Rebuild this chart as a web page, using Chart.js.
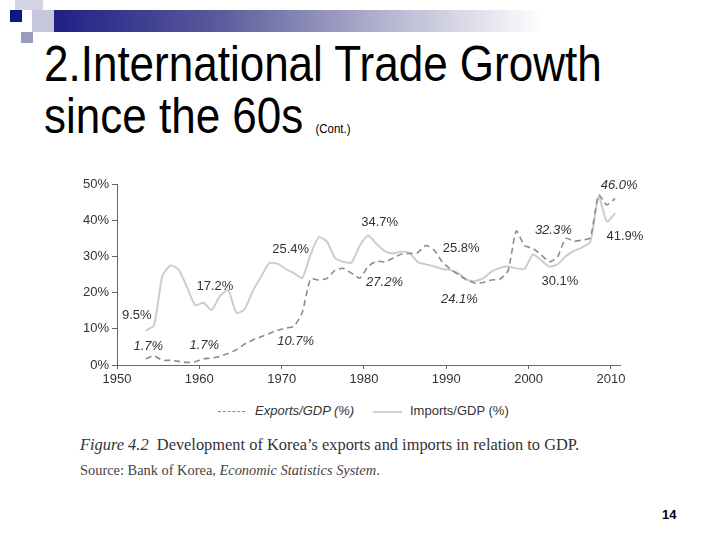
<!DOCTYPE html>
<html>
<head>
<meta charset="utf-8">
<script src="https://cdn.jsdelivr.net/npm/chart.js@4.4.1/dist/chart.umd.min.js"></script>
<style>
  body { margin: 0; background: #fff; }
  #slide { position: relative; width: 720px; height: 540px; overflow: hidden; background: #fff; font-family: "Liberation Sans", Arial, sans-serif; }
  .sq { position: absolute; }
  #bar { position: absolute; left: 43px; top: 10px; width: 500px; height: 22px;
         background: linear-gradient(to right, #1c1c84 0%, #5a5a9c 35%, #b8b8d2 70%, #ffffff 100%); }
  #title { position: absolute; left: 44px; top: 38px; font-size: 50px; line-height: 52px; color: #000;
           transform: scaleX(0.88); transform-origin: left top; white-space: nowrap; }
  #title small { font-size: 13px; }
  #chartBox { position: absolute; left: 0; top: 160px; width: 720px; height: 240px; }
  #legend { position: absolute; top: 403px; left: 0; width: 720px; height: 18px; font-size: 13px; color: #333; }
  #legend span { position: absolute; top: 0; }
  #legend i.ln { position: absolute; top: 8px; height: 0; }
  #cap1 { position: absolute; left: 80px; top: 435px; font-family: "Liberation Serif", serif; font-size: 16.4px; color: #333; white-space: nowrap; }
  #cap2 { position: absolute; left: 80px; top: 462px; font-family: "Liberation Serif", serif; font-size: 14.4px; color: #444; white-space: nowrap; }
  #page { position: absolute; left: 662px; top: 507px; font-size: 13px; font-weight: bold; color: #000; }
</style>
</head>
<body>
<div id="slide">
  <div id="bar"></div>
  <div class="sq" style="left:15px;top:0;width:28px;height:10px;background:#d4d4e6"></div>
  <div class="sq" style="left:32px;top:10px;width:22px;height:22px;background:#c6c6dc"></div>
  <div class="sq" style="left:10px;top:10px;width:12px;height:12px;background:#14148a"></div>
  <div class="sq" style="left:21px;top:32px;width:12px;height:11px;background:#9a9ac0"></div>
  <div id="title">2.International Trade Growth<br>since the 60s <small>(Cont.)</small></div>
  <div id="chartBox"><canvas id="tradeChart"></canvas></div>
  <div id="legend">
    <i class="ln" style="left:218px;width:27px;border-top:1.5px dashed #8c8c8c"></i>
    <span style="left:255px;font-style:italic">Exports/GDP (%)</span>
    <i class="ln" style="left:373px;width:29px;border-top:2px solid #cfcfcf"></i>
    <span style="left:410px">Imports/GDP (%)</span>
  </div>
  <div id="cap1"><i>Figure 4.2</i>&nbsp; Development of Korea’s exports and imports in relation to GDP.</div>
  <div id="cap2">Source: Bank of Korea, <i>Economic Statistics System</i>.</div>
  <div id="page">14</div>
</div>
<script>
// years 1953 - 2010
const years = [];
for (let y = 1953; y <= 2010; y++) years.push(y);

const exportsGDP = [
  1.7, 2.5, 1.3, 1.3, 1.0, 0.7, 0.9,            // 1953-59
  1.7, 1.9, 2.4, 3.2, 4.2, 5.8, 6.9, 7.8, 8.7, 9.6, // 1960-69
  10.2, 10.7, 14.5, 23.7, 23.5, 23.9, 26.2, 26.7, 25.3, 24.0, // 1970-79
  27.2, 28.7, 28.5, 29.5, 30.6, 30.8, 31.0, 33.0, 31.8, 28.5, // 1980-89
  26.5, 24.9, 23.5, 22.6, 22.8, 23.5, 23.7, 26.0, 37.0, 33.0, // 1990-99
  32.2, 30.5, 28.5, 29.8, 35.0, 34.2, 34.5, 35.2, 47.0, 44.2, // 2000-09
  46.0                                            // 2010
];
const importsGDP = [
  9.5, 11.0, 24.5, 27.5, 26.3, 21.5, 16.5,      // 1953-59
  17.2, 15.2, 19.0, 20.7, 14.4, 15.4, 20.5, 24.4, 28.1, 28.0, // 1960-69
  26.5, 25.4, 24.0, 30.4, 35.3, 34.1, 29.5, 28.5, 28.3, 33.0, // 1970-79
  35.8, 33.5, 31.5, 30.8, 31.3, 31.0, 28.5, 27.8, 27.3, 26.5, // 1980-89
  26.2, 25.3, 23.5, 23.2, 24.0, 25.8, 26.8, 27.2, 26.7, 26.5, // 1990-99
  30.5, 29.0, 27.2, 27.8, 30.0, 31.5, 32.5, 34.0, 46.5, 39.6, // 2000-09
  41.9                                            // 2010
];

// annotation texts placed at (year, value)
const noteText   = ['9.5%', '17.2%', '25.4%', '34.7%', '25.8%', '30.1%', '41.9%',
                    '1.7%', '1.7%', '10.7%', '27.2%', '24.1%', '32.3%', '46.0%'];
const noteYear   = [1952.4, 1961.9, 1971.1, 1981.9, 1991.8, 2003.8, 2011.7,
                    1953.8, 1960.6, 1971.7, 1982.5, 1991.6, 2003.0, 2011.0];
const noteValue  = [13.6, 21.8, 31.8, 39.3, 32.1, 23.2, 35.6,
                    5.1, 5.3, 6.6, 22.9, 18.1, 37.3, 49.7];
const noteItalic = [false, false, false, false, false, false, false,
                    true, true, true, true, true, true, true];

const yTicks = [0, 10, 20, 30, 40, 50];
const xTicks = [1950, 1960, 1970, 1980, 1990, 2000, 2010];

function points(vals) {
  return vals.map((v, i) => ({ x: years[i] + 0.5, y: v }));
}

const notesPlugin = {
  id: 'notes',
  afterDatasetsDraw(chart) {
    const ctx = chart.ctx;
    const xs = chart.scales.x, ys = chart.scales.y;
    ctx.save();
    ctx.fillStyle = '#333';
    ctx.textAlign = 'center';
    ctx.textBaseline = 'middle';
    noteText.forEach((t, i) => {
      ctx.font = (noteItalic[i] ? 'italic ' : '') + '13px "Liberation Sans", Arial, sans-serif';
      ctx.fillText(t, xs.getPixelForValue(noteYear[i]), ys.getPixelForValue(noteValue[i]));
    });
    ctx.restore();
  }
};

const config = {
  type: 'line',
  data: {
    datasets: [
      {
        label: 'Exports/GDP (%)',
        data: points(exportsGDP),
        borderColor: '#8c8c8c',
        borderWidth: 1.6,
        borderDash: [6, 4],
        pointRadius: 0,
        tension: 0.2,
        fill: false
      },
      {
        label: 'Imports/GDP (%)',
        data: points(importsGDP),
        borderColor: '#cdcdcd',
        borderWidth: 2,
        pointRadius: 0,
        tension: 0.2,
        fill: false
      }
    ]
  },
  options: {
    responsive: true,
    maintainAspectRatio: false,
    animation: false,
    layout: { padding: { top: 24, right: 100, left: 0, bottom: 0 } },
    plugins: {
      legend: { display: false },
      tooltip: { enabled: false }
    },
    scales: {
      x: {
        type: 'linear',
        min: 1950,
        max: 2011.1,
        afterFit: s => { s.height = 35; },
        afterBuildTicks: s => { s.ticks = xTicks.map(v => ({ value: v })); },
        ticks: { callback: v => String(v), color: '#333', padding: 3, maxRotation: 0,
                 font: { family: '"Liberation Sans", Arial, sans-serif', size: 13 } },
        grid: { drawOnChartArea: false, drawTicks: true, tickLength: 4, color: '#666' },
        border: { color: '#666', width: 1 }
      },
      y: {
        min: 0,
        max: 50,
        afterFit: s => { s.width = 117; },
        afterBuildTicks: s => { s.ticks = yTicks.map(v => ({ value: v })); },
        ticks: { callback: v => v + '%', color: '#333', padding: 3,
                 font: { family: '"Liberation Sans", Arial, sans-serif', size: 13 } },
        grid: { drawOnChartArea: false, drawTicks: true, tickLength: 5, color: '#666' },
        border: { color: '#666', width: 1 }
      }
    }
  },
  plugins: [notesPlugin]
};

const chart = new Chart(document.getElementById('tradeChart'), config);
</script>
</body>
</html>
